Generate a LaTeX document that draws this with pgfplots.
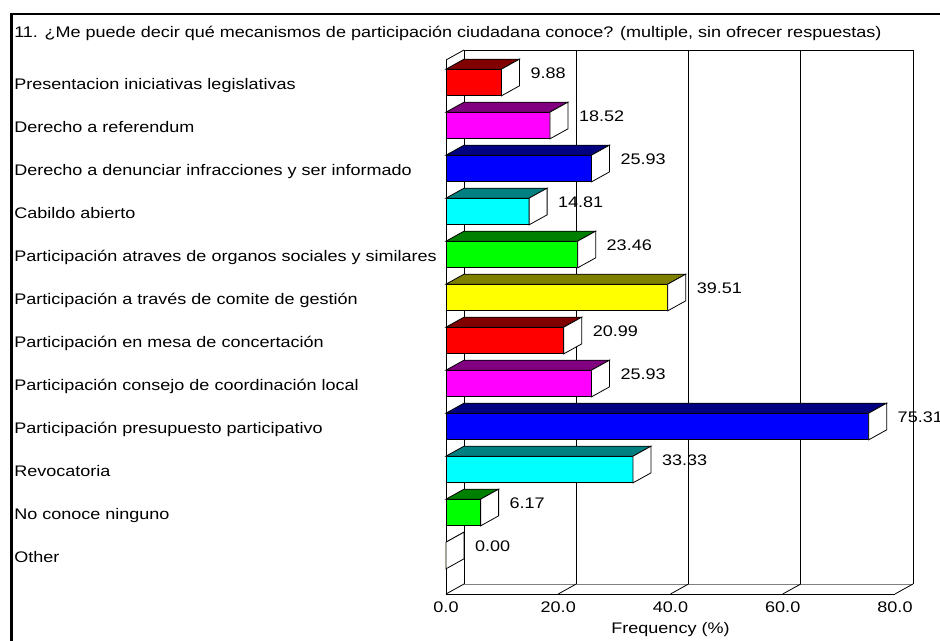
\documentclass[border=0pt]{standalone}
\usepackage{fontspec}
\setmainfont{Liberation Sans}[FakeStretch=1.175]
\usepackage{pgfplots}
\pgfplotsset{compat=1.18}
\usepackage{pgfplotstable}

% front face (f) / top face (t) colours, cycling every six bars
\definecolor{c0f}{RGB}{255,0,0}
\definecolor{c0t}{RGB}{128,0,0}
\definecolor{c1f}{RGB}{255,0,255}
\definecolor{c1t}{RGB}{128,0,128}
\definecolor{c2f}{RGB}{0,0,255}
\definecolor{c2t}{RGB}{0,0,128}
\definecolor{c3f}{RGB}{0,255,255}
\definecolor{c3t}{RGB}{0,128,128}
\definecolor{c4f}{RGB}{0,255,0}
\definecolor{c4t}{RGB}{0,128,0}
\definecolor{c5f}{RGB}{255,255,0}
\definecolor{c5t}{RGB}{128,128,0}

\pgfplotstableread{
pos val
0  9.88
1  18.52
2  25.93
3  14.81
4  23.46
5  39.51
6  20.99
7  25.93
8  75.31
9  33.33
10 6.17
11 0.00
}\freqtable

\pgfkeys{/pgf/number format/assume math mode=true}

% vertical extent of the plot box (category units, reversed)
\def\yT{-0.5233}
\def\yB{11.8953}
% length of one x unit in pt (axis width / 80)
\def\xu{4.209375}

\begin{document}
\begin{tikzpicture}
\fontsize{11.5pt}{13.8pt}\selectfont
\path[use as bounding box] (0,0) rectangle (705pt,-480.75pt);
% outer frame
\draw[line width=1.9pt] (7.6pt,-10.5pt) -- (705pt,-10.5pt);
\draw[line width=1.9pt] (8.5pt,-9.6pt) -- (8.5pt,-480.75pt);
\node[anchor=base west, inner sep=0pt] at (10.5pt,-28.1pt)
  {11. ¿Me puede decir qué mecanismos de participación ciudadana conoce? (multiple, sin ofrecer respuestas)};
\begin{axis}[
  at={(334.5pt,-445.5pt)}, anchor=south west,
  scale only axis, width=336.75pt, height=400.5pt,
  xmin=0, xmax=80, ymin=\yT, ymax=\yB, y dir=reverse,
  axis line style={draw=none}, major tick length=0pt,
  xtick={0,20,...,80},
  xticklabel style={anchor=base, inner sep=0pt, yshift=-14.2pt,
    /pgf/number format/.cd, fixed, fixed zerofill, precision=1},
  ytick={0,...,11},
  yticklabels={Presentacion iniciativas legislativas,
    Derecho a referendum,
    Derecho a denunciar infracciones y ser informado,
    Cabildo abierto,
    Participación atraves de organos sociales y similares,
    Participación a través de comite de gestión,
    Participación en mesa de concertación,
    Participación consejo de coordinación local,
    Participación presupuesto participativo,
    Revocatoria,
    No conoce ninguno,
    Other},
  yticklabel style={anchor=base west, inner sep=0pt, xshift=-324pt, yshift=-5.5pt},
  clip=false,
]
% walls and floor of the box
\draw[line width=0.6pt] (axis cs:0,\yT) -- (axis cs:0,\yB) -- (axis cs:80,\yB);
\draw[line width=0.6pt] (axis cs:0,\yT) -- ++(13.5pt,7.5pt);
\draw[line width=0.6pt] ([shift={(13.5pt,7.5pt)}]axis cs:0,\yB) -- ([shift={(13.5pt,7.5pt)}]axis cs:0,\yT)
  -- ([shift={(13.5pt,7.5pt)}]axis cs:80,\yT) -- ([shift={(13.5pt,7.5pt)}]axis cs:80,\yB);
\draw[line width=0.6pt, gray] ([shift={(13.5pt,7.5pt)}]axis cs:0,\yB) -- ([shift={(13.5pt,7.5pt)}]axis cs:80,\yB);
\pgfplotsinvokeforeach{20,40,60}{
  \draw[line width=0.6pt] ([shift={(13.5pt,7.5pt)}]axis cs:#1,\yT) -- ([shift={(13.5pt,7.5pt)}]axis cs:#1,\yB);
}
\pgfplotsinvokeforeach{0,20,40,60,80}{
  \draw[line width=0.6pt] (axis cs:#1,\yB) -- ++(13.5pt,7.5pt);
}
% 3D bars: front face, top face, side face and value label
\addplot[scatter, only marks, mark=*, mark size=0pt, mark options={draw=none, fill=none},
  visualization depends on={\thisrow{val} \as \barval},
  visualization depends on={\thisrow{pos} \as \barpos},
  scatter/@pre marker code/.code={
    \pgfmathsetmacro\barlen{-\barval*\xu}
    \pgfmathtruncatemacro\ci{mod(round(\barpos),6)}
    \filldraw[fill=c\ci f, draw=black, line width=0.6pt] (\barlen pt,10pt) rectangle (0pt,-10pt);
    \filldraw[fill=c\ci t, draw=black, line width=0.6pt] (\barlen pt,10pt) -- (0pt,10pt)
      -- (13.5pt,17.5pt) -- (\barlen pt+13.5pt,17.5pt) -- cycle;
    \filldraw[fill=white, draw=black, line width=0.6pt] (0pt,10pt) -- (0pt,-10pt)
      -- (13.5pt,-2.5pt) -- (13.5pt,17.5pt) -- cycle;
    \node[anchor=base west, inner sep=0pt] at (21.6pt,3.2pt)
      {\pgfmathprintnumber[fixed, fixed zerofill, precision=2]{\barval}};
  },
  scatter/@post marker code/.code={},
] table[x=val, y=pos] {\freqtable};
\node[anchor=base, inner sep=0pt] at ([yshift=-29.25pt]axis cs:40,\yB) {Frequency (\%)};
\end{axis}
\end{tikzpicture}
\end{document}
